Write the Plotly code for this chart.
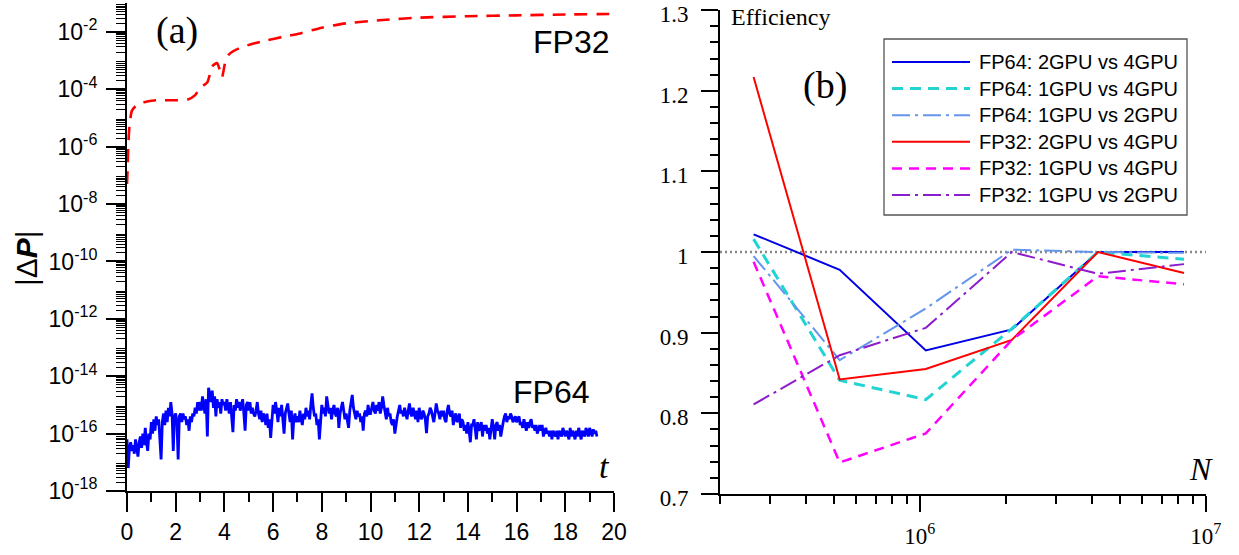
import plotly.graph_objects as go
import math

W, H = 1239, 555

# ---------------- panel (a): |ΔP| versus time ----------------
# FP64 deviation, log10 values sampled every 0.05 time units from t = 0
T_STEP = 0.05
log_dp_fp64 = [
    -16.2, -17.2, -16.5, -16.3, -16.6, -16.4, -16.7, -16.2, -16.5, -16.8,
    -16.3, -16.1, -16.5, -16.0, -16.4, -15.8, -16.3, -16.6, -16.0, -16.2,
    -15.6, -16.0, -15.5, -15.9, -15.4, -15.7, -15.5, -16.1, -16.9, -15.6,
    -15.3, -15.7, -15.2, -15.6, -15.1, -15.4, -14.9, -15.3, -16.6, -15.4,
    -15.3, -15.6, -16.9, -15.4, -15.3, -15.6, -15.3, -15.5, -15.4, -15.7,
    -15.5, -15.9, -15.4, -15.6, -15.3, -15.4, -15.1, -15.3, -14.9, -15.2,
    -14.9, -15.2, -14.7, -15.0, -15.3, -14.8, -16.1, -14.4, -14.6, -14.9,
    -14.5, -15.1, -14.7, -15.4, -14.8, -15.1, -14.9, -15.3, -14.8, -15.0,
    -14.9, -15.2, -14.8, -15.1, -15.3, -14.9, -15.4, -15.95, -15.0, -15.2,
    -14.8, -15.1, -14.9, -15.2, -15.0, -14.8, -15.3, -15.9, -15.0, -14.9,
    -15.2, -14.9, -15.3, -15.1, -15.3, -15.4, -15.2, -14.9, -15.3, -15.5,
    -15.2, -15.6, -15.3, -15.4, -15.7, -15.3, -15.8, -15.5, -16.15, -15.4,
    -15.0, -15.3, -14.9, -15.2, -15.6, -15.1, -15.4, -15.0, -15.6, -16.0,
    -15.3, -15.1, -14.95, -15.3, -15.6, -15.2, -16.2, -15.5, -15.3, -15.6,
    -15.4, -15.6, -15.2, -15.5, -15.7, -15.3, -15.5, -15.1, -15.4, -15.2,
    -15.5, -15.0, -14.6, -15.1, -15.4, -15.3, -15.7, -15.5, -16.2, -15.6,
    -15.0, -15.3, -15.1, -15.4, -14.7, -15.0, -15.3, -15.1, -15.5, -15.2,
    -15.0, -15.3, -15.4, -15.1, -15.8, -15.3, -15.1, -14.9, -15.2, -15.5,
    -15.3, -15.6, -15.8, -15.2, -14.9, -14.65, -15.1, -15.3, -15.5, -15.2,
    -15.4, -15.3, -15.6, -15.4, -15.9, -15.3, -15.2, -15.4, -15.0, -15.3,
    -15.3, -15.1, -14.9, -15.2, -15.3, -15.0, -15.2, -14.9, -15.3, -15.1,
    -14.7, -15.0, -15.2, -15.5, -15.1, -15.4, -15.3, -15.6, -15.7, -15.5,
    -16.0, -15.6, -15.4, -15.2, -15.0, -15.3, -15.2, -15.4, -15.1, -15.3,
    -15.5, -15.2, -14.95, -15.3, -15.4, -15.1, -15.3, -15.5, -15.2, -15.6,
    -15.1, -15.4, -15.5, -15.2, -15.3, -15.5, -15.98, -15.4, -15.3, -15.1,
    -15.2, -15.4, -15.6, -15.3, -14.95, -15.2, -15.3, -15.5, -15.2, -15.4,
    -15.2, -15.5, -15.6, -15.2, -15.0, -15.3, -15.4, -15.2, -15.7, -15.4,
    -15.3, -15.6, -15.5, -15.3, -15.8, -15.5, -15.6, -15.9, -15.7, -16.0,
    -15.6, -15.9, -16.3, -15.7, -15.7, -15.5, -15.8, -16.2, -15.6, -15.9,
    -15.8, -15.6, -16.1, -15.7, -15.9, -15.7, -16.0, -15.8, -16.2, -15.9,
    -15.5, -15.8, -16.2, -15.7, -15.6, -15.9, -15.7, -16.1, -15.8, -15.6,
    -15.4, -15.3, -15.6, -15.4, -15.5, -15.3, -15.4, -15.6, -15.5, -15.4,
    -15.6, -15.5, -15.4, -15.7, -15.6, -15.8, -15.5, -15.7, -15.9, -15.6,
    -15.8, -15.6, -15.5, -15.8, -15.7, -15.9, -15.7, -16.0, -15.8, -15.7,
    -15.9, -15.7, -16.1, -15.9, -15.8, -16.0, -15.9, -16.1, -15.9, -16.2,
    -15.9, -16.0, -16.1, -15.9, -16.2, -15.9, -16.0, -16.1, -15.8, -16.0,
    -16.1, -15.9, -16.0, -16.2, -15.8, -16.1, -15.9, -16.0, -16.2, -15.9,
    -16.1, -15.8, -16.0, -16.2, -15.9, -16.0, -16.1, -15.8, -16.0, -16.1,
    -15.8, -16.0, -16.1, -15.85, -16.0, -15.9, -16.1,
]
t_fp64 = [round(i * T_STEP, 2) for i in range(len(log_dp_fp64))]

# FP32 deviation (smooth growth), time and log10 value
t_fp32 = [0.0, 0.02, 0.05, 0.1, 0.2, 0.4, 0.7, 1.2, 2.0, 2.5, 2.8, 3.0, 3.3,
          3.5, 3.7, 3.8, 3.9, 4.05, 4.2, 4.6, 5.2, 5.7, 6.5, 7.1, 8.0, 9.0,
          10.5, 12.0, 14.0, 16.0, 18.0, 20.0]
log_dp_fp32 = [-7.3, -6.9, -6.0, -5.3, -4.75, -4.55, -4.45, -4.38, -4.38,
               -4.35, -4.2, -3.95, -3.75, -3.2, -3.08, -3.3, -3.58, -3.0,
               -2.77, -2.57, -2.4, -2.3, -2.15, -2.05, -1.85, -1.7, -1.58,
               -1.5, -1.45, -1.42, -1.39, -1.37]

labelled_decades = list(range(-18, 0, 2))
plain_decades = list(range(-17, 0, 2))
y_ticktext_a = [f"10<sup>{k}</sup>" for k in labelled_decades]
x_ticks_a = list(range(0, 21, 2))
x_minor_a = list(range(1, 20, 2))

# ---------------- panel (b): parallel efficiency ----------------
N_sizes = [262144, 524288, 1048576, 2097152, 4194304, 8388608]
eff_fp64_2v4 = [1.022, 0.978, 0.878, 0.904, 1.000, 1.000]
eff_fp64_1v4 = [1.016, 0.841, 0.817, 0.905, 1.000, 0.991]
eff_fp64_1v2 = [0.995, 0.866, 0.930, 1.003, 1.000, 0.999]
eff_fp32_2v4 = [1.217, 0.842, 0.855, 0.891, 1.000, 0.974]
eff_fp32_1v4 = [0.988, 0.739, 0.775, 0.891, 0.970, 0.960]
eff_fp32_1v2 = [0.811, 0.872, 0.906, 1.000, 0.973, 0.985]

series_names = ["FP64: 2GPU vs 4GPU", "FP64: 1GPU vs 4GPU", "FP64: 1GPU vs 2GPU",
                "FP32: 2GPU vs 4GPU", "FP32: 1GPU vs 4GPU", "FP32: 1GPU vs 2GPU"]
series_values = [eff_fp64_2v4, eff_fp64_1v4, eff_fp64_1v2,
                 eff_fp32_2v4, eff_fp32_1v4, eff_fp32_1v2]
series_styles = [
    dict(color="#0000e6", width=2, dash="solid"),
    dict(color="#22d3d3", width=3, dash="11px,7px"),
    dict(color="#6495ed", width=2, dash="18px,5px,3px,5px"),
    dict(color="#ff0000", width=2, dash="solid"),
    dict(color="#ff00ff", width=2.5, dash="10px,7px"),
    dict(color="#8c1ccc", width=2, dash="18px,5px,3px,5px"),
]

y_ticks_b = [0.7, 0.8, 0.9, 1.0, 1.1, 1.2, 1.3]
y_ticktext_b = ["0.7", "0.8", "0.9", "1", "1.1", "1.2", "1.3"]
y_minor_b = [round(0.7 + 0.02 * i, 2) for i in range(31) if i % 5]
x_ticks_b = [1e6, 1e7]
x_ticktext_b = ["10<sup>6</sup>", "10<sup>7</sup>"]


def fx(p):
    return p / W


def fy(p):
    return 1 - p / H


fig = go.Figure()

fig.add_trace(go.Scatter(
    x=t_fp64, y=[10 ** v for v in log_dp_fp64], mode="lines",
    line=dict(color="#0000ff", width=2.8), xaxis="x", yaxis="y",
    showlegend=False))
fig.add_trace(go.Scatter(
    x=t_fp32, y=[10 ** v for v in log_dp_fp32], mode="lines",
    line=dict(color="#ff0000", width=2.6, dash="13px,9px", shape="spline",
              smoothing=0.6),
    xaxis="x", yaxis="y", showlegend=False))

for name, vals, st in zip(series_names, series_values, series_styles):
    fig.add_trace(go.Scatter(
        x=N_sizes, y=vals, mode="lines", name=name, line=st,
        xaxis="x2", yaxis="y2", showlegend=False))

sans = "Liberation Sans"
serif = "Liberation Serif"

axis_common = dict(showline=True, linewidth=2, linecolor="black", mirror=False,
                   showgrid=False, zeroline=False, ticks="outside",
                   tickcolor="black", automargin=False,
                   ticklabeloverflow="allow")

left_x_dom = [fx(127), fx(614)]
left_y_dom = [fy(491), fy(3.3)]

fig.update_layout(
    width=W, height=H, margin=dict(l=0, r=0, t=0, b=0),
    paper_bgcolor="white", plot_bgcolor="white",
    xaxis=dict(domain=left_x_dom, range=[0, 20], anchor="y",
               tickvals=x_ticks_a, ticklen=19, tickwidth=2,
               tickfont=dict(family=sans, size=23, color="black"),
               ticklabelstandoff=0,
               minor=dict(tickvals=x_minor_a, ticks="outside", ticklen=9,
                          tickwidth=2, tickcolor="black"),
               **axis_common),
    yaxis=dict(domain=left_y_dom, type="log", range=[-18, -1],
               anchor="x", tickvals=[10 ** k for k in labelled_decades],
               ticktext=y_ticktext_a, ticklen=19, tickwidth=2,
               tickfont=dict(family=sans, size=23, color="black"),
               ticklabelstandoff=4,
               minor=dict(tickvals=[m * 10 ** k for k in range(-18, -1)
                                    for m in range(2, 10)],
                          ticks="outside", ticklen=9, tickwidth=1.3,
                          tickcolor="black"),
               **axis_common),
    # unlabelled decade ticks on the left scale
    yaxis3=dict(domain=left_y_dom, type="log", range=[-18, -1], anchor="x",
                overlaying="y", tickvals=[10 ** k for k in plain_decades],
                showticklabels=False, ticklen=19, tickwidth=2,
                **axis_common),
    xaxis2=dict(domain=[fx(720), fx(1206)], type="log",
                range=[math.log10(2e5), 7.0005], anchor="y2",
                tickvals=x_ticks_b, ticktext=x_ticktext_b, ticklen=16,
                tickwidth=2, ticklabelstandoff=4,
                tickfont=dict(family=serif, size=23, color="black"),
                minor=dict(tickvals=[m * 10 ** k for k in (5, 6)
                                     for m in range(2, 10)],
                           ticks="outside", ticklen=8, tickwidth=2,
                           tickcolor="black"),
                **axis_common),
    yaxis2=dict(domain=[fy(494), fy(10)], range=[0.6999, 1.3002], anchor="x2",
                tickvals=y_ticks_b, ticktext=y_ticktext_b, ticklen=17,
                tickwidth=2, ticklabelstandoff=8, ticklabelshift=4,
                tickfont=dict(family=serif, size=23, color="black"),
                minor=dict(tickvals=y_minor_b, ticks="outside", ticklen=8,
                           tickwidth=2, tickcolor="black"),
                **axis_common),
)

# reference line at unit efficiency
fig.add_shape(type="line", xref="x2 domain", yref="y2", x0=0, x1=1, y0=1, y1=1,
              line=dict(color="#888888", width=2.5, dash="2px,3px"), layer="below")

# legend box for panel (b)
fig.add_shape(type="rect", xref="paper", yref="paper",
              x0=fx(884), x1=fx(1187), y0=fy(215), y1=fy(39),
              line=dict(color="#555555", width=1.3), fillcolor="white")
row_y0, row_dy = 62, 26.6
for i, (name, st) in enumerate(zip(series_names, series_styles)):
    yy = fy(row_y0 + i * row_dy)
    fig.add_shape(type="line", xref="paper", yref="paper",
                  x0=fx(892), x1=fx(970), y0=yy, y1=yy, line=st)
    fig.add_annotation(xref="paper", yref="paper", x=fx(977), y=yy,
                       text=name, showarrow=False, xanchor="left",
                       yanchor="middle",
                       font=dict(family=sans, size=20, color="black"))

# panel labels and axis captions
ann = [
    dict(x=fx(177), y=fy(31), text="(a)", font=dict(family=serif, size=38)),
    dict(x=fx(571), y=fy(42), text="FP32", font=dict(family=sans, size=32)),
    dict(x=fx(551), y=fy(392), text="FP64", font=dict(family=sans, size=32)),
    dict(x=fx(604), y=fy(466), text="<i>t</i>", font=dict(family=serif, size=34)),
    dict(x=fx(825), y=fy(86), text="(b)", font=dict(family=serif, size=38)),
    dict(x=fx(781), y=fy(17), text="Efficiency", font=dict(family=serif, size=24)),
    dict(x=fx(1201), y=fy(469), text="<i>N</i>", font=dict(family=serif, size=32)),
]
for a in ann:
    a["font"]["color"] = "black"
    fig.add_annotation(xref="paper", yref="paper", showarrow=False,
                       xanchor="center", yanchor="middle", **a)

fig.add_annotation(xref="paper", yref="paper", x=fx(26), y=fy(258),
                   text="|Δ<b><i>P</i></b>|", textangle=-90, showarrow=False,
                   xanchor="center", yanchor="middle",
                   font=dict(family=sans, size=30, color="black"))

fig.write_html("out.html")
